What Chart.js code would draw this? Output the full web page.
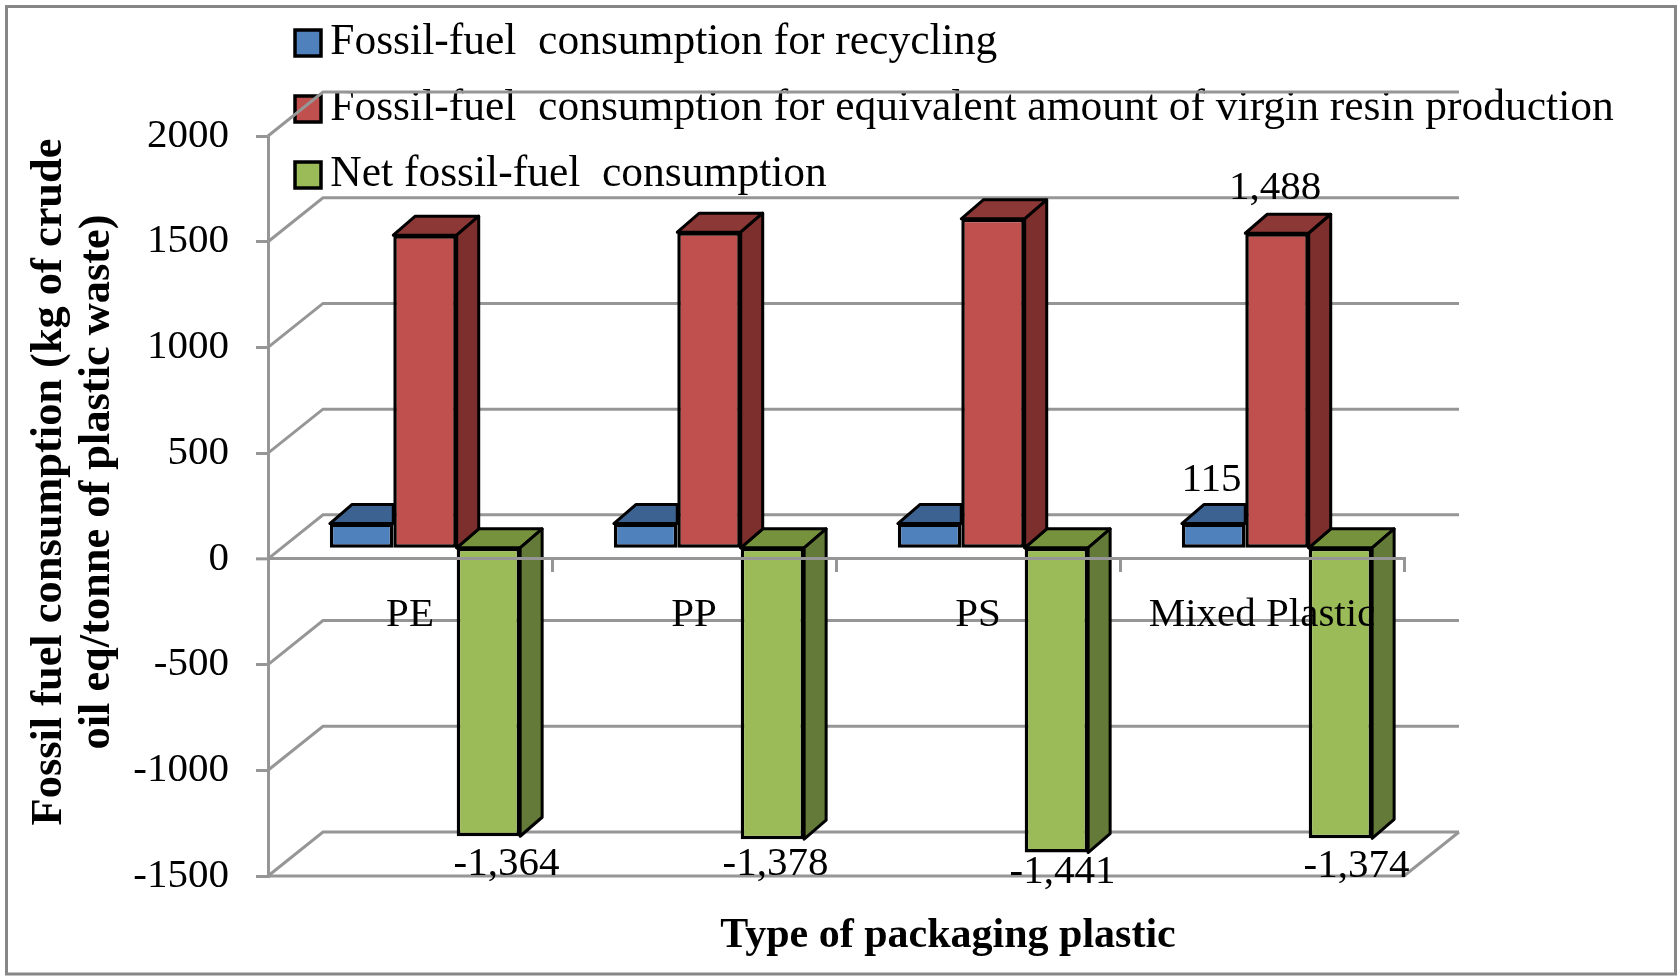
<!DOCTYPE html>
<html><head><meta charset="utf-8">
<style>html,body{margin:0;padding:0;background:#fff}canvas{display:block;filter:blur(0.5px)}</style>
<script src="https://cdn.jsdelivr.net/npm/chart.js@4"></script>
</head><body><canvas id="c" width="1677" height="976"></canvas>
<script>
const categories = ['PE','PP','PS','Mixed Plastic'];
const recycling = [115,115,115,115];
const virgin = [1479,1493,1556,1488];
const net = [-1364,-1378,-1441,-1374];
const seriesNames = ['Fossil-fuel  consumption for recycling','Fossil-fuel  consumption for equivalent amount of virgin resin production','Net fossil-fuel  consumption'];
const yTitle = ['Fossil fuel consumption (kg of crude','oil eq/tonne of plastic waste)'];
const xTitle = 'Type of packaging plastic';
const serif = '"Liberation Serif"';
const GRID = '#969696';
const faces = [
  {front:'#4F81BD',top:'#3C6291',side:'#385D8A'},
  {front:'#C0504D',top:'#8C3836',side:'#7D2F2D'},
  {front:'#9BBB59',top:'#76923C',side:'#647A38'}
];
const FLOOR = {dx:55,dy:-44}, BASE = {dx:15,dy:-11}, DEPTH = {dx:22,dy:-19};
// which data labels the original shows, with their manual nudges from the bar end
const dataLabels = [
  {ds:0,i:3,dx:-2,dy:-43},
  {ds:1,i:3,dx:-2,dy:-45},
  {ds:2,i:0,dx:18,dy:28},
  {ds:2,i:1,dx:3,dy:25},
  {ds:2,i:2,dx:6,dy:20},
  {ds:2,i:3,dx:16,dy:28}
];
function poly(ctx,pts,fill){
  ctx.beginPath();pts.forEach((p,i)=>i?ctx.lineTo(p[0],p[1]):ctx.moveTo(p[0],p[1]));ctx.closePath();
  ctx.fillStyle=fill;ctx.fill();ctx.lineWidth=3;ctx.strokeStyle='#000';ctx.lineJoin='round';ctx.stroke();
}
const threeD = {
  id:'threeD',
  beforeDraw(chart){
    const ctx=chart.ctx;
    ctx.save();ctx.strokeStyle='#868686';ctx.lineWidth=3;ctx.strokeRect(6.5,6.5,1669,967.5);ctx.restore();
    const lg=chart.legend;
    lg.left=285;lg.right=1670;lg.top=-1.25;lg.bottom=240;lg.width=lg.right-lg.left;lg.height=241;
    const wrap=(s,tx,ty)=>{ if(s._wrapped) return; s._wrapped=true; const o=s.drawTitle;
      s.drawTitle=function(){const c=this.ctx;c.save();c.translate(tx,ty);o.call(this);c.restore();}; };
    wrap(chart.scales.y,26,-24);
    wrap(chart.scales.x,112,251);
  },
  beforeDatasetsDraw(chart){
    const ctx=chart.ctx,y=chart.scales.y,x=chart.scales.x;
    ctx.save();ctx.strokeStyle=GRID;ctx.lineWidth=3;ctx.lineJoin='miter';
    y.ticks.forEach(t=>{
      const py=y.getPixelForValue(t.value);
      ctx.beginPath();ctx.moveTo(x.left,py);ctx.lineTo(x.left+FLOOR.dx,py+FLOOR.dy);ctx.lineTo(x.right+FLOOR.dx,py+FLOOR.dy);ctx.stroke();
    });
    const b=y.bottom, z=y.getPixelForValue(0);
    ctx.beginPath();ctx.moveTo(x.left,b);ctx.lineTo(x.right,b);ctx.lineTo(x.right+FLOOR.dx,b+FLOOR.dy);ctx.stroke();
    // tick stub at zero (its library grid width is 0 so the bars share one base line)
    ctx.beginPath();ctx.moveTo(x.left-12,z);ctx.lineTo(x.left,z);ctx.stroke();
    ctx.restore();
    ctx.save();ctx.translate(BASE.dx,BASE.dy);
  },
  beforeDatasetDraw(chart,args){
    const ctx=chart.ctx,f=faces[args.index];
    const nextMeta=chart.data.datasets[args.index+1]?chart.getDatasetMeta(args.index+1):null;
    chart.getDatasetMeta(args.index).data.forEach((el,j)=>{
      const x0=el.x-el.width/2,x1=el.x+el.width/2,up=Math.min(el.y,el.base),lo=Math.max(el.y,el.base);
      // Chart.js paints the first dataset last, so a taller neighbour's front face has to hide this bar's depth by hand
      const next=nextMeta&&nextMeta.data[j];
      const hidden=next&&Math.min(next.y,next.base)<up&&args.index===0;
      if(hidden){
        poly(ctx,[[x0,up],[x1,up],[x1,up+DEPTH.dy],[x0+DEPTH.dx,up+DEPTH.dy]],f.top);
      }else{
        poly(ctx,[[x0,up],[x1,up],[x1+DEPTH.dx,up+DEPTH.dy],[x0+DEPTH.dx,up+DEPTH.dy]],f.top);
        poly(ctx,[[x1,up],[x1+DEPTH.dx,up+DEPTH.dy],[x1+DEPTH.dx,lo+DEPTH.dy],[x1,lo]],f.side);
      }
    });
  },
  afterDatasetsDraw(chart){
    const ctx=chart.ctx;
    ctx.restore();
    ctx.save();ctx.fillStyle='#000';ctx.font='41px '+serif;ctx.textAlign='center';ctx.textBaseline='middle';
    dataLabels.forEach(l=>{
      const el=chart.getDatasetMeta(l.ds).data[l.i];
      const v=chart.data.datasets[l.ds].data[l.i];
      ctx.fillText(v.toLocaleString('en-US'),el.x+BASE.dx+l.dx,el.y+BASE.dy+l.dy);
    });
    ctx.restore();
  }
};
const ds=(i,data)=>({label:seriesNames[i],data,backgroundColor:faces[i].front,borderColor:'#000',borderWidth:3.5,borderSkipped:false,clip:false,categoryPercentage:0.67,barPercentage:1});
new Chart(document.getElementById('c'),{
  type:'bar',
  data:{labels:categories,datasets:[ds(0,recycling),ds(1,virgin),ds(2,net)]},
  plugins:[threeD],
  options:{
    responsive:false,animation:false,
    layout:{padding:{left:0,right:273,top:136,bottom:100}},
    plugins:{
      tooltip:{enabled:false},
      legend:{position:'chartArea',align:'start',labels:{usePointStyle:true,pointStyle:'rect',boxWidth:1,boxHeight:26,padding:22.5,color:'#000',font:{family:serif,size:43.5}}},
    },
    scales:{
      x:{
        type:'category',position:{y:0},offset:true,
        grid:{offset:true,drawOnChartArea:false,drawTicks:true,tickLength:12,color:GRID,lineWidth:3,z:1},
        border:{display:true,color:GRID,width:3,z:1},
        ticks:{z:1,color:'#000',autoSkip:false,maxRotation:0,padding:20,font:{family:serif,size:41}},
        title:{display:true,text:xTitle,color:'#000',font:{family:serif,size:42,weight:'bold'},padding:{top:0,bottom:0}}
      },
      y:{
        min:-1500,max:2000,
        afterFit(s){s.width=268;},
        grid:{drawOnChartArea:false,drawTicks:true,tickLength:12,color:GRID,lineWidth:c=>(c.tick&&c.tick.value===0?0:3)},
        border:{display:true,color:GRID,width:3},
        ticks:{stepSize:500,color:'#000',padding:27,font:{family:serif,size:41},callback:v=>String(v)},
        title:{display:true,text:yTitle,color:'#000',font:{family:serif,size:44.4,weight:'bold',lineHeight:1.08},padding:{top:0,bottom:0}}
      }
    }
  }
});
</script></body></html>
